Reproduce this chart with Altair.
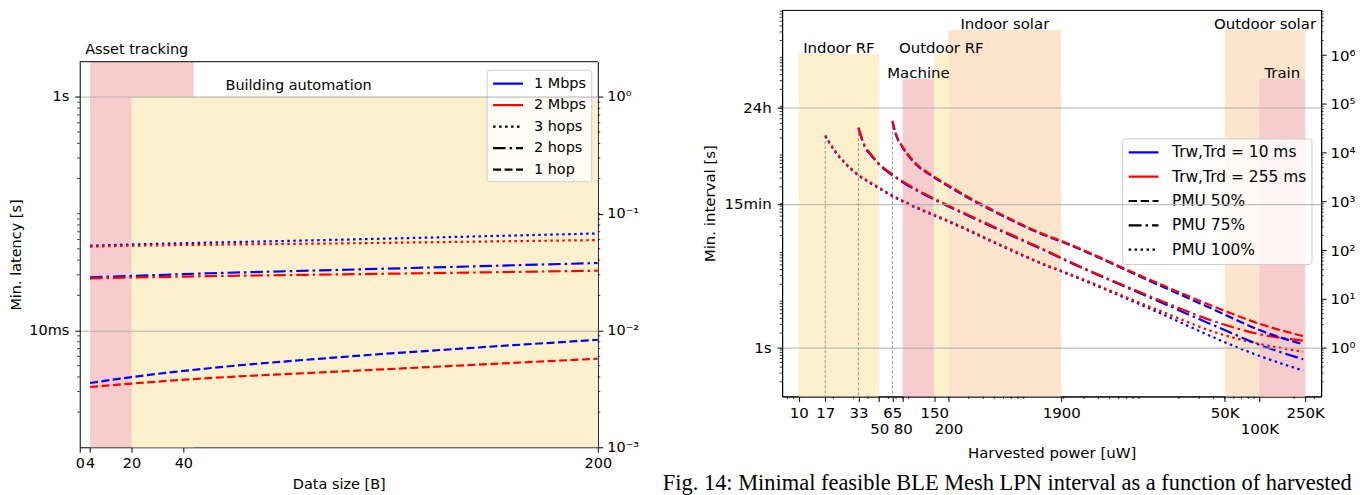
import altair as alt
import pandas as pd

FONT = "DejaVu Sans"
SERIF = "Liberation Serif"

# ---------------- left panel data (latency vs data size) ----------------
data_size = [4, 20, 50, 100, 150, 200]
lat_1m_3hops = [0.0532, 0.0545, 0.0565, 0.0598, 0.0636, 0.0677]
lat_2m_3hops = [0.0523, 0.0532, 0.0543, 0.0556, 0.0575, 0.0594]
lat_1m_2hops = [0.0285, 0.0293, 0.0309, 0.0330, 0.0353, 0.0378]
lat_2m_2hops = [0.0279, 0.0284, 0.0292, 0.0302, 0.0313, 0.0325]
lat_1m_1hop = [0.00355, 0.00399, 0.00475, 0.00590, 0.00706, 0.00832]
lat_2m_1hop = [0.00328, 0.00351, 0.00391, 0.00445, 0.00505, 0.00573]

left_region_names = ["Asset tracking", "Building automation"]
left_region_x0 = [4, 20]
left_region_x1 = [44, 200]
left_region_y0 = [0.001, 0.001]
left_region_y1 = [2, 1]
left_label_x = [22, 84.5]
left_label_y = [2.34, 1.14]

left_x_domain = [0, 200]
left_y_domain = [0.001, 2]
left_x_ticks = [0, 4, 20, 40, 200]
left_y_ticks = [1, 0.01]
left_y_tick_labels = ["1s", "10ms"]
left_y2_ticks = [1, 0.1, 0.01, 0.001]
left_y2_tick_labels = ["10⁰", "10⁻¹", "10⁻²", "10⁻³"]
left_legend_labels = ["1 Mbps", "2 Mbps", "3 hops", "2 hops", "1 hop"]

# ---------------- right panel data (interval vs harvested power) ----------------
pmu100_x = [17, 18.4, 21, 25.7, 33, 41, 53, 65, 80, 150, 200, 580, 1480, 1800, 10900, 50000, 100000, 240000]
pmu100_10ms = [22000, 16000, 10000, 5800, 3400, 2450, 1700, 1280, 1000, 513, 385, 121, 46, 38.6, 6.5, 1.3, 0.68, 0.34]
pmu100_255ms = [22900, 16600, 10400, 6030, 3540, 2550, 1770, 1330, 1040, 534, 400, 126, 47.5, 40, 7.1, 1.8, 1.2, 0.83]

pmu75_x = [33, 35.8, 38.4, 41, 50, 65, 80, 150, 200, 580, 1480, 1800, 10900, 50000, 100000, 240000]
pmu75_10ms = [31800, 17500, 11800, 9800, 5700, 3450, 2480, 1100, 790, 245, 90, 72.2, 11, 2.3, 1.15, 0.58]
pmu75_255ms = [33100, 18200, 12300, 10200, 5930, 3590, 2580, 1145, 820, 255, 93, 74.5, 11.7, 2.95, 1.9, 1.4]

pmu50_x = [65.2, 69.6, 80, 97, 150, 200, 300, 448, 1480, 1800, 10900, 50000, 100000, 240000]
pmu50_10ms = [43300, 23900, 12700, 6900, 3100, 2050, 1160, 703, 188, 158, 24, 4.8, 2.3, 1.17]
pmu50_255ms = [45000, 24900, 13200, 7180, 3220, 2130, 1210, 731, 194, 163, 25.5, 5.7, 3.1, 1.73]

right_region_names = ["Indoor RF", "Outdoor RF", "Indoor solar", "Outdoor solar", "Machine", "Train"]
right_region_x0 = [10, 150, 200, 50000, 80, 100000]
right_region_x1 = [50, 200, 1900, 250000, 150, 250000]
right_region_top = [1.06e6, 1.06e6, 3.3e6, 3.3e6, 3.3e5, 3.3e5]

right_x_domain = [7.18, 343600]
right_y_domain = [0.1, 8.5e6]
right_x_ticks = [10, 17, 33, 50, 65, 80, 150, 200, 1900, 50000, 100000, 250000]
right_x_tick_labels = ["10", "17", "33", "50", "65", "80", "150", "200", "1900", "50K", "100K", "250K"]
right_x_second_row = [50, 80, 200, 100000]
right_y_ticks = [1, 900, 86400]
right_y_tick_labels = ["1s", "15min", "24h"]
right_y2_ticks = [1, 10, 100, 1000, 10000, 100000, 1000000]
right_y2_tick_labels = ["10⁰", "10¹", "10²", "10³", "10⁴", "10⁵", "10⁶"]
right_legend_labels = ["Trw,Trd = 10 ms", "Trw,Trd = 255 ms", "PMU 50%", "PMU 75%", "PMU 100%"]

caption = "Fig. 14: Minimal feasible BLE Mesh LPN interval as a function of harvested"

# ---------------- styling / layout ----------------
LTOP = 52                 # left plot starts this far below the right plot
LW, LPH = 520, 387        # left plot area
LH = LTOP + LPH           # left view height
RW, RH = 541, 388
BLUE, RED = "#0000ff", "#ff0000"
PINK, YELLOW, PEACH = "#f6cccc", "#fdf0cc", "#fde4cc"
SOLID = [1, 0]
L_DOT, L_DASHDOT, L_DASH = [2.5, 3.5], [12.5, 4, 2.5, 4], [8, 3.5]
R_DOT, R_DASHDOT, R_DASH = [2.5, 3.5], [13, 4, 2.5, 4], [8.5, 3.5]


def label_expr(values, labels):
    expr = "''"
    for v, lab in zip(values, labels):
        expr = f"(abs(datum.value / {v} - 1) < 1e-6 ? '{lab}' : {expr})"
    return expr


def minor_ticks(lo, hi, n0, n1):
    out = []
    for n in range(n0, n1):
        for k in range(2, 10):
            v = k * 10.0 ** n
            if lo < v < hi:
                out.append(v)
    return out


def line_layer(xs, ys, color, dash, X, Y, width=2.2, interp="linear"):
    df = pd.DataFrame({"x": xs, "y": ys})
    return alt.Chart(df).mark_line(
        color=color, strokeDash=dash, strokeWidth=width, clip=True, interpolate=interp
    ).encode(x=X("x:Q"), y=Y("y:Q"))


def legend_layer(labels, colors, dashes, x0, y0, X, Y, lx, ly, fs, row_pad, lab_off):
    df = pd.DataFrame({"lab": labels, "x": [x0] * len(labels), "y": [y0] * len(labels)})
    leg = alt.Legend(
        title=None, orient="none", legendX=lx, legendY=ly,
        labelFont=FONT, labelFontSize=fs, labelColor="black", labelLimit=400,
        symbolType="M-2,0H2", symbolSize=225, symbolStrokeWidth=2.2, symbolOffset=7.5,
        labelOffset=lab_off, padding=5, rowPadding=row_pad,
        strokeColor="#cccccc", fillColor="rgba(255,255,255,0.8)", cornerRadius=3,
    )
    return alt.Chart(df).mark_line(opacity=0).encode(
        x=X("x:Q"), y=Y("y:Q"),
        color=alt.Color("lab:N", scale=alt.Scale(domain=labels, range=colors), legend=leg),
        strokeDash=alt.StrokeDash("lab:N", scale=alt.Scale(domain=labels, range=dashes), legend=leg),
    )


def ytick_rules(values, Y, x_from, x_to):
    df = pd.DataFrame({"v": values})
    return alt.Chart(df).mark_rule(color="black", strokeWidth=0.8).encode(
        y=Y("v:Q"), x=alt.value(x_from), x2=alt.value(x_to))


def spacer(x_from, x_to, y):
    return alt.Chart(pd.DataFrame({"a": [0]})).mark_rule(color="white", strokeOpacity=0).encode(
        x=alt.value(x_from), x2=alt.value(x_to), y=alt.value(y))


# ================= LEFT PANEL =================
lxs = alt.Scale(domain=left_x_domain, nice=False, zero=False)
lys = alt.Scale(type="log", domain=left_y_domain, nice=False, range=[LH, LTOP])
lys2 = alt.Scale(type="log", domain=left_y_domain, nice=False, range=[LH, LTOP])

x_axis_l = alt.Axis(values=left_x_ticks, format="d", title="Data size [B]", grid=False,
                    labelFlush=False, labelOverlap=False, tickSize=5, labelPadding=4,
                    titlePadding=8, labelFontSize=14.5, titleFontSize=14.5)
y_axis_l = alt.Axis(values=left_y_ticks, labelExpr=label_expr(left_y_ticks, left_y_tick_labels),
                    title="Min. latency [s]", grid=True, tickSize=5, labelPadding=6,
                    titlePadding=5, labelFontSize=14.5, titleFontSize=14.5, zindex=1)
y2_axis_l = alt.Axis(orient="right", values=left_y2_ticks,
                     labelExpr=label_expr(left_y2_ticks, left_y2_tick_labels),
                     title=None, grid=False, tickSize=5, labelPadding=4, labelFontSize=14.5)


def LX(f):
    return alt.X(f, scale=lxs, axis=x_axis_l)


def LY(f):
    return alt.Y(f, scale=lys, axis=y_axis_l)


lreg = pd.DataFrame({
    "name": left_region_names, "x0": left_region_x0, "x1": left_region_x1,
    "y0": left_region_y0, "y1": left_region_y1, "fill": [PINK, YELLOW],
})
l_rects = alt.Chart(lreg).mark_rect(strokeWidth=0).encode(
    x=LX("x0:Q"), x2="x1:Q", y=LY("y0:Q"), y2="y1:Q", fill=alt.Fill("fill:N", scale=None))
llab = pd.DataFrame({"name": left_region_names, "x": left_label_x, "y": left_label_y})
l_labels = alt.Chart(llab).mark_text(font=FONT, fontSize=14.5, color="black", align="center",
                                     baseline="alphabetic").encode(x=LX("x:Q"), y=LY("y:Q"), text="name:N")
l_top = alt.Chart(pd.DataFrame({"x0": [left_x_domain[0]], "x1": [left_x_domain[1]],
                                "y": [left_y_domain[1]]})).mark_rule(color="black", strokeWidth=1).encode(
    x=LX("x0:Q"), x2="x1:Q", y=LY("y:Q"))

l_lines = [
    line_layer(data_size, lat_1m_3hops, BLUE, L_DOT, LX, LY),
    line_layer(data_size, lat_2m_3hops, RED, L_DOT, LX, LY),
    line_layer(data_size, lat_1m_2hops, BLUE, L_DASHDOT, LX, LY),
    line_layer(data_size, lat_2m_2hops, RED, L_DASHDOT, LX, LY),
    line_layer(data_size, lat_1m_1hop, BLUE, L_DASH, LX, LY, interp="monotone"),
    line_layer(data_size, lat_2m_1hop, RED, L_DASH, LX, LY, interp="monotone"),
]
l_legend = legend_layer(left_legend_labels, [BLUE, RED, "black", "black", "black"],
                        [SOLID, SOLID, L_DOT, L_DASHDOT, L_DASH],
                        data_size[0], lat_1m_3hops[0], LX, LY, 408.4, LTOP + 8, 14.5, 5.6, 17)
l_minor = minor_ticks(left_y_domain[0], left_y_domain[1], -3, 1) + [0.1]
l_minor_left = ytick_rules(l_minor, LY, 0, -2.5)

l_inner = alt.layer(l_rects, l_labels, *l_lines, l_legend, l_minor_left, l_top,
                    spacer(-70.3, LW + 50, LTOP))
l_right_axis = ytick_rules(l_minor, lambda f: alt.Y(f, scale=lys2, axis=y2_axis_l), LW, LW + 2.5)
left = alt.layer(l_inner, l_right_axis).resolve_scale(y="independent").properties(
    width=LW, height=LH, view=alt.ViewBackground(stroke=None))

# ================= RIGHT PANEL =================
rxs = alt.Scale(type="log", domain=right_x_domain, nice=False)
rys = alt.Scale(type="log", domain=right_y_domain, nice=False)
rys2 = alt.Scale(type="log", domain=right_y_domain, nice=False)

second_row_test = " || ".join(f"abs(datum.value / {v} - 1) < 1e-6" for v in right_x_second_row)
x_axis_r = alt.Axis(values=right_x_ticks, labelExpr=label_expr(right_x_ticks, right_x_tick_labels),
                    title="Harvested power [uW]", grid=False, labelFlush=False, labelOverlap=False,
                    tickSize=5, labelPadding={"condition": {"test": second_row_test, "value": 20}, "value": 4},
                    titlePadding=9, labelFontSize=15, titleFontSize=15)
y_axis_r = alt.Axis(values=right_y_ticks, labelExpr=label_expr(right_y_ticks, right_y_tick_labels),
                    title="Min. interval [s]", grid=True, tickSize=5, labelPadding=6,
                    titlePadding=7, labelFontSize=15, titleFontSize=15, zindex=1)
y2_axis_r = alt.Axis(orient="right", values=right_y2_ticks,
                     labelExpr=label_expr(right_y2_ticks, right_y2_tick_labels),
                     title=None, grid=False, tickSize=5, labelPadding=4, labelFontSize=15)


def RX(f):
    return alt.X(f, scale=rxs, axis=x_axis_r)


def RY(f):
    return alt.Y(f, scale=rys, axis=y_axis_r)


rreg = pd.DataFrame({
    "name": right_region_names, "x0": right_region_x0, "x1": right_region_x1,
    "y0": [right_y_domain[0]] * len(right_region_names), "y1": right_region_top,
    "fill": [YELLOW, YELLOW, PEACH, PEACH, PINK, PINK],
})
rreg["xc"] = (rreg["x0"] * rreg["x1"]) ** 0.5
r_rects = alt.Chart(rreg).mark_rect(strokeWidth=0).encode(
    x=RX("x0:Q"), x2="x1:Q", y=RY("y0:Q"), y2="y1:Q", fill=alt.Fill("fill:N", scale=None))
r_labels = alt.Chart(rreg).mark_text(font=FONT, fontSize=15, color="black", align="center",
                                     baseline="alphabetic", dy=-1).encode(
    x=RX("xc:Q"), y=RY("y1:Q"), text="name:N")

vl = pd.DataFrame({"x": [pmu100_x[0], pmu75_x[0], pmu50_x[0]],
                   "top": [pmu100_10ms[0], pmu75_10ms[0], pmu50_10ms[0]],
                   "bottom": [right_y_domain[0]] * 3})
r_vlines = alt.Chart(vl).mark_rule(color="#808080", strokeWidth=0.8, strokeDash=[3, 2]).encode(
    x=RX("x:Q"), y=RY("top:Q"), y2="bottom:Q")

r_lines = [
    line_layer(pmu100_x, pmu100_10ms, BLUE, R_DOT, RX, RY, interp="monotone"),
    line_layer(pmu100_x, pmu100_255ms, RED, R_DOT, RX, RY, interp="monotone"),
    line_layer(pmu75_x, pmu75_10ms, BLUE, R_DASHDOT, RX, RY, interp="monotone"),
    line_layer(pmu75_x, pmu75_255ms, RED, R_DASHDOT, RX, RY, interp="monotone"),
    line_layer(pmu50_x, pmu50_10ms, BLUE, R_DASH, RX, RY, interp="monotone"),
    line_layer(pmu50_x, pmu50_255ms, RED, R_DASH, RX, RY, interp="monotone"),
]
r_legend = legend_layer(right_legend_labels, [BLUE, RED, "black", "black", "black"],
                        [SOLID, SOLID, R_DASH, R_DASHDOT, R_DOT],
                        pmu100_x[0], pmu100_10ms[0], RX, RY, 341.3, 129, 15.5, 6.4, 19.5)
r_minor_y = minor_ticks(right_y_domain[0], right_y_domain[1], -1, 7)
r_minor_left = ytick_rules(r_minor_y, RY, 0, -2.5)
r_minor_x = minor_ticks(right_x_domain[0], right_x_domain[1], 0, 6)
r_minor_bottom = alt.Chart(pd.DataFrame({"v": r_minor_x})).mark_rule(color="black", strokeWidth=0.8).encode(
    x=RX("v:Q"), y=alt.value(RH), y2=alt.value(RH + 2.5))
r_caption = alt.Chart(pd.DataFrame({"t": [caption]})).mark_text(
    font=SERIF, fontSize=22.5, color="black", align="left", baseline="alphabetic"
).encode(x=alt.value(-119.7), y=alt.value(481.5), text="t:N")

r_inner = alt.layer(r_rects, r_vlines, r_labels, *r_lines, r_legend, r_minor_left,
                    r_minor_bottom, r_caption, spacer(-130, 0, 10))
r_right_axis = ytick_rules(r_minor_y, lambda f: alt.Y(f, scale=rys2, axis=y2_axis_r), RW, RW + 2.5)
right = alt.layer(r_inner, r_right_axis).resolve_scale(y="independent").properties(width=RW, height=RH)

chart = alt.hconcat(left, right, spacing=4).resolve_scale(
    color="independent", strokeDash="independent"
).properties(padding=0, background="white").configure_view(
    stroke="black", strokeWidth=1
).configure_axis(
    labelFont=FONT, titleFont=FONT, labelColor="black", titleColor="black",
    titleFontWeight="normal", domainColor="black", tickColor="black", tickWidth=1,
    gridColor="#b0b0b0", gridWidth=1,
)

chart.save("out.html", embed_options={"renderer": "svg", "actions": False})
